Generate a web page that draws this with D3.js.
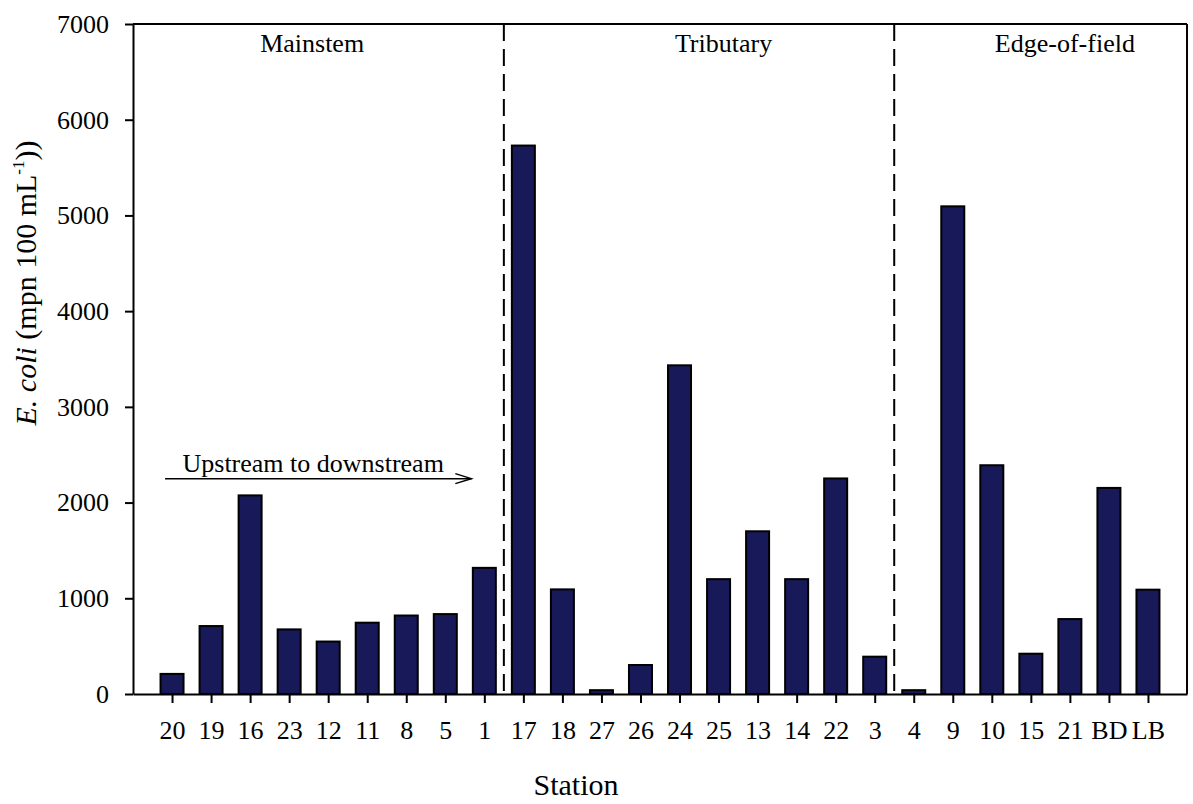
<!DOCTYPE html>
<html>
<head>
<meta charset="utf-8">
<title>E. coli by station</title>
<script src="https://cdn.jsdelivr.net/npm/d3@7"></script>
<style>
body { margin: 0; background: #fff; }
svg text { font-family: "Liberation Serif", "Times New Roman", serif; fill: #000; }
.axis path, .axis line { stroke: #000; stroke-width: 2; }
.axis text { font-size: 26px; }
</style>
</head>
<body>
<svg width="1193" height="804"></svg>
<script>
// stations, upstream -> downstream within each group
var stations = ["20","19","16","23","12","11","8","5","1",
                "17","18","27","26","24","25","13","14","22","3",
                "4","9","10","15","21","BD","LB"];
var ecoli = [210, 710, 2075, 675, 548, 745, 820, 835, 1318,
             5730, 1093, 40, 303, 3434, 1200, 1700, 1200, 2252, 390,
             40, 5095, 2390, 421, 783, 2153, 1090];
var yTicks = [0, 1000, 2000, 3000, 4000, 5000, 6000, 7000];
// group boundaries fall between these station pairs
var groupBreaks = [["1","17"], ["3","4"]];
var groupNames = ["Mainstem", "Tributary", "Edge-of-field"];

var serif = "'Liberation Serif', 'Times New Roman', serif";
var svg = d3.select("svg");
var margin = {top: 24, right: 6, bottom: 110, left: 133};
var W = 1193 - margin.left - margin.right;
var H = 804 - margin.top - margin.bottom;
var g = svg.append("g").attr("transform", "translate(" + margin.left + "," + margin.top + ")");

var x = d3.scalePoint().domain(stations).range([0, W]).padding(1);
var y = d3.scaleLinear().domain([0, 7000]).range([H, 0]);
var barW = 23;

// frame (top + right)
g.append("line").attr("x1", 0).attr("x2", W).attr("y1", 0).attr("y2", 0)
  .attr("stroke", "#000").attr("stroke-width", 2);
g.append("line").attr("x1", W).attr("x2", W).attr("y1", 0).attr("y2", H)
  .attr("stroke", "#000").attr("stroke-width", 2);

// bars
g.selectAll("rect.bar")
  .data(stations)
  .enter()
  .append("rect")
    .attr("class", "bar")
    .attr("x", function(d) { return x(d) - barW / 2; })
    .attr("width", barW)
    .attr("y", function(d, i) { return y(ecoli[i]); })
    .attr("height", function(d, i) { return H - y(ecoli[i]); })
    .attr("fill", "#181959")
    .attr("stroke", "#000")
    .attr("stroke-width", 2);

// dashed group separators
g.selectAll("line.sep")
  .data(groupBreaks)
  .enter()
  .append("line")
    .attr("class", "sep")
    .attr("x1", function(d) { return (x(d[0]) + x(d[1])) / 2; })
    .attr("x2", function(d) { return (x(d[0]) + x(d[1])) / 2; })
    .attr("y1", 0).attr("y2", H)
    .attr("stroke", "#000").attr("stroke-width", 2)
    .attr("stroke-dasharray", "17,8");

// group names
var nameAt = [[ "23", 23], ["25", 5], ["21", -5]];
g.selectAll("text.grp")
  .data(groupNames)
  .enter()
  .append("text")
    .attr("class", "grp")
    .attr("x", function(d, i) { return x(nameAt[i][0]) + nameAt[i][1]; })
    .attr("y", 28)
    .attr("text-anchor", "middle")
    .style("font-size", "26px")
    .text(function(d) { return d; });

// upstream arrow
var ay = y(2250);
var ax0 = x("20") - 7, ax1 = x("1") - 13;
g.append("line").attr("x1", ax0).attr("x2", ax1).attr("y1", ay).attr("y2", ay)
  .attr("stroke", "#000").attr("stroke-width", 1.5);
g.append("path")
  .attr("d", "M" + (ax1 - 16) + "," + (ay - 5) + "L" + ax1 + "," + ay + "L" + (ax1 - 16) + "," + (ay + 5))
  .attr("fill", "none").attr("stroke", "#000").attr("stroke-width", 1.5);
g.append("text")
  .attr("x", (ax0 + ax1) / 2 - 5)
  .attr("y", ay - 7)
  .attr("text-anchor", "middle")
  .style("font-size", "26px")
  .text("Upstream to downstream");

// axes
var yAxis = g.append("g").attr("class", "axis")
  .call(d3.axisLeft(y).tickValues(yTicks).tickFormat(d3.format("d"))
    .tickSize(8).tickPadding(16).tickSizeOuter(0));
var xAxis = g.append("g").attr("class", "axis")
  .attr("transform", "translate(0," + H + ")")
  .call(d3.axisBottom(x).tickSize(9).tickPadding(18).tickSizeOuter(0));
yAxis.attr("font-family", serif).attr("font-size", null);
xAxis.attr("font-family", serif).attr("font-size", null);

// axis titles
svg.append("text")
  .attr("x", 576).attr("y", 795)
  .attr("text-anchor", "middle")
  .style("font-family", serif)
  .style("font-size", "30px")
  .text("Station");

var yl = svg.append("text")
  .attr("transform", "translate(36,283) rotate(-90)")
  .attr("text-anchor", "middle")
  .style("font-family", serif)
  .style("font-size", "30px");
yl.append("tspan").style("font-style", "italic").text("E. coli");
yl.append("tspan").text(" (mpn 100 mL");
yl.append("tspan").attr("dy", -12).style("font-size", "17px").text("-1");
yl.append("tspan").attr("dy", 12).text("))");
</script>
</body>
</html>
